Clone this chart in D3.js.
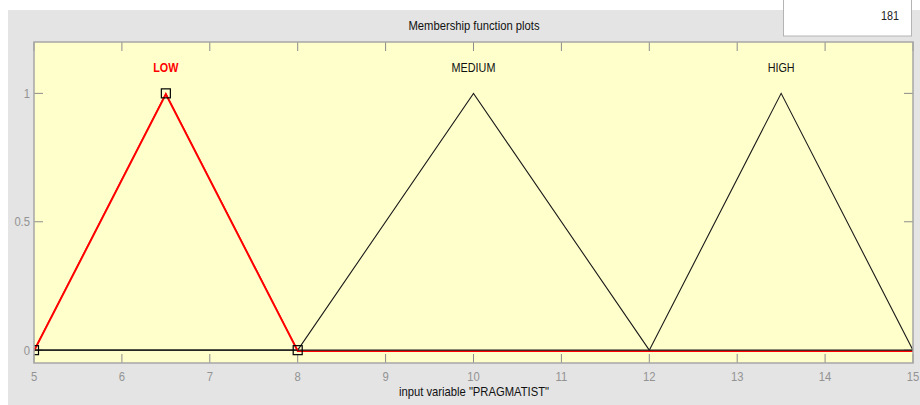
<!DOCTYPE html>
<html>
<head>
<meta charset="utf-8">
<script src="https://cdn.jsdelivr.net/npm/d3@7"></script>
<style>
  html, body { margin: 0; padding: 0; background: #ffffff; }
  svg { display: block; }
  text { font-family: "Liberation Sans", Arial, sans-serif; }
</style>
</head>
<body>
<svg id="chart" width="920" height="405"></svg>
<script>
// Membership functions of the input variable (triangular: [a, b, c])
const mfNames = ["LOW", "MEDIUM", "HIGH"];
const mfParams = [[5, 6.5, 8], [8, 10, 12], [12, 13.5, 15]];
const mfSelected = "LOW";
const xRange = [5, 15];
const xTicks = [5, 6, 7, 8, 9, 10, 11, 12, 13, 14, 15];
const yTicks = [0, 0.5, 1];
const yTickLabels = ["0", "0.5", "1"];
const variableName = "PRAGMATIST";
const pointCount = 181;

const svg = d3.select("#chart");
const W = 920, H = 405;

// condensed text helper (narrow UI font look)
function label(parent, px, py, str, opts = {}) {
  const t = parent.append("g").attr("transform", `translate(${px},${py}) scale(0.9,1)`)
    .append("text").attr("x", 0).attr("y", 0)
    .attr("text-anchor", opts.anchor || "middle")
    .attr("font-size", opts.size || 12.5)
    .attr("font-weight", opts.weight || "normal")
    .attr("fill", opts.fill || "#111").text(str);
  return t;
}

// figure panel
svg.append("rect").attr("x", 8).attr("y", 10).attr("width", W - 8).attr("height", H - 10)
  .attr("fill", "#e4e4e4");

// point-count box
svg.append("rect").attr("x", 783.5).attr("y", -1).attr("width", 128).attr("height", 37)
  .attr("fill", "#ffffff").attr("stroke", "#b4b4b4").attr("stroke-width", 1);
label(svg, 899, 20, pointCount, { anchor: "end", size: 12, fill: "#222" });

// title
label(svg, 474, 30, "Membership function plots", { size: 12.5 });

const plot = { left: 34, right: 913, top: 42, bottom: 363 };
const x = d3.scaleLinear().domain(xRange).range([plot.left, plot.right]);
const y = d3.scaleLinear().domain([-0.05, 1.2]).range([plot.bottom, plot.top]);

// axes background
svg.append("rect").attr("x", plot.left).attr("y", plot.top)
  .attr("width", plot.right - plot.left).attr("height", plot.bottom - plot.top)
  .attr("fill", "#ffffcc");

svg.append("clipPath").attr("id", "clip").append("rect")
  .attr("x", plot.left).attr("y", plot.top)
  .attr("width", plot.right - plot.left).attr("height", plot.bottom - plot.top);

// ticks (inside, all four sides)
const tickColor = "#8c8c8c";
const tl = 9;
const g = svg.append("g");
xTicks.forEach(t => {
  g.append("line").attr("x1", x(t)).attr("x2", x(t)).attr("y1", plot.bottom).attr("y2", plot.bottom - tl)
    .attr("stroke", tickColor).attr("stroke-width", 1);
  g.append("line").attr("x1", x(t)).attr("x2", x(t)).attr("y1", plot.top).attr("y2", plot.top + tl)
    .attr("stroke", tickColor).attr("stroke-width", 1);
  label(g, x(t), plot.bottom + 18, t, { size: 12.5, fill: "#939393" });
});
yTicks.forEach((t, i) => {
  g.append("line").attr("x1", plot.left).attr("x2", plot.left + tl).attr("y1", y(t)).attr("y2", y(t))
    .attr("stroke", tickColor).attr("stroke-width", 1);
  g.append("line").attr("x1", plot.right).attr("x2", plot.right - tl).attr("y1", y(t)).attr("y2", y(t))
    .attr("stroke", tickColor).attr("stroke-width", 1);
  label(g, plot.left - 4, y(t) + 4.5, yTickLabels[i], { anchor: "end", size: 12.5, fill: "#939393" });
});

// x axis label
label(svg, 474, 396, `input variable "${variableName}"`, { size: 12.5 });

// membership function curves
const curve = p => [[xRange[0], 0], [p[0], 0], [p[1], 1], [p[2], 0], [xRange[1], 0]];
const line = d3.line().x(d => x(d[0])).y(d => y(d[1]));
const curves = svg.append("g").attr("clip-path", "url(#clip)");

const selIdx = mfNames.indexOf(mfSelected);
// selected function in red, drawn underneath
curves.append("path").datum(curve(mfParams[selIdx]))
  .attr("d", line).attr("fill", "none").attr("stroke", "#ff0000").attr("stroke-width", 1.8)
  .attr("transform", "translate(0,1)");
mfNames.forEach((n, i) => {
  if (i === selIdx) return;
  curves.append("path").datum(curve(mfParams[i]))
    .attr("d", line).attr("fill", "none").attr("stroke", "#1a1a1a").attr("stroke-width", 1.1);
});
// selected curve peak on top of black zero line
curves.append("path").datum(curve(mfParams[selIdx]).slice(1, 4))
  .attr("d", line).attr("fill", "none").attr("stroke", "#ff0000").attr("stroke-width", 1.2);

// vertex handles of the selected function
curves.selectAll("rect.handle").data(mfParams[selIdx].map((v, k) => [v, k === 1 ? 1 : 0]))
  .enter().append("rect").attr("class", "handle")
  .attr("x", d => x(d[0]) - 4.5).attr("y", d => y(d[1]) - 4.5)
  .attr("width", 9).attr("height", 9)
  .attr("fill", "none").attr("stroke", "#000").attr("stroke-width", 1.2);

// function names
mfNames.forEach((n, i) => {
  label(svg, x(mfParams[i][1]), y(1.1) + 4, n, {
    size: 12,
    weight: i === selIdx ? "bold" : "normal",
    fill: i === selIdx ? "#ff0000" : "#111"
  });
});

// axes border
svg.append("rect").attr("x", plot.left).attr("y", plot.top)
  .attr("width", plot.right - plot.left).attr("height", plot.bottom - plot.top)
  .attr("fill", "none").attr("stroke", "#a6a6a6").attr("stroke-width", 1.5);
</script>
</body>
</html>
